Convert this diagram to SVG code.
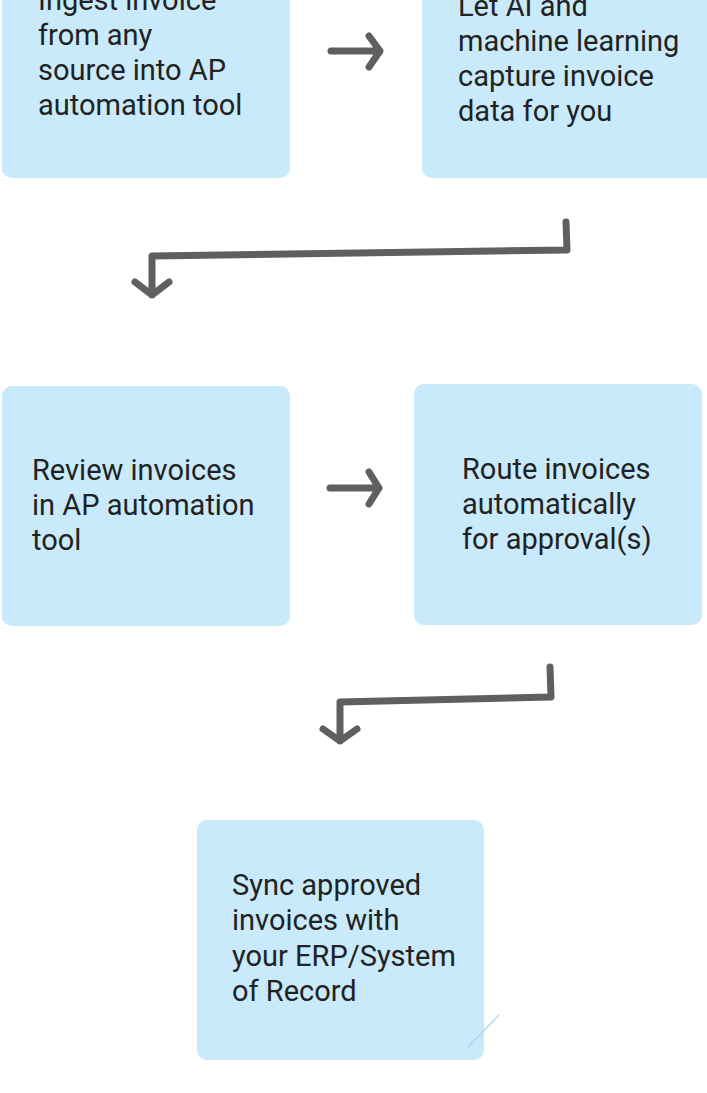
<svg xmlns="http://www.w3.org/2000/svg" width="707" height="1093" viewBox="0 0 707 1093">
<style>
.box{fill:#c8eafa;}
.t{font-family:Roboto,"Liberation Sans",sans-serif;font-size:29px;fill:#222222;}
.c{fill:none;stroke:#5e605f;stroke-width:7;stroke-linecap:round;stroke-linejoin:round;}
</style>
<rect width="707" height="1093" fill="#ffffff"/>
<g id="node1">
<rect class="box" x="2" y="-30" width="288" height="208" rx="10"/>
<text class="t" x="38" y="10">Ingest invoice</text>
<text class="t" x="38" y="45">from any</text>
<text class="t" x="38" y="80">source into AP</text>
<text class="t" x="38" y="115">automation tool</text>
</g>
<g id="node2">
<rect class="box" x="422" y="-30" width="300" height="208" rx="10"/>
<text class="t" x="458" y="16">Let AI and</text>
<text class="t" x="458" y="51">machine learning</text>
<text class="t" x="458" y="86">capture invoice</text>
<text class="t" x="458" y="121">data for you</text>
</g>
<g id="node3">
<rect class="box" x="2" y="386" width="288" height="240" rx="10"/>
<text class="t" x="32" y="480">Review invoices</text>
<text class="t" x="32" y="515">in AP automation</text>
<text class="t" x="32" y="550">tool</text>
</g>
<g id="node4">
<rect class="box" x="414" y="384" width="288" height="241" rx="10"/>
<text class="t" x="462" y="479">Route invoices</text>
<text class="t" x="462" y="514">automatically</text>
<text class="t" x="462" y="549">for approval(s)</text>
</g>
<g id="node5">
<rect class="box" x="197" y="820" width="287" height="240" rx="10"/>
<text class="t" x="232" y="895">Sync approved</text>
<text class="t" x="232" y="930">invoices with</text>
<text class="t" x="232" y="966">your ERP/System</text>
<text class="t" x="232" y="1001">of Record</text>
<line x1="468" y1="1047" x2="499" y2="1015" stroke="#9fd6f2" stroke-width="1.2"/>
</g>
<g id="connectors">
<path class="c" d="M331 51 L380 51 M369 36 L380 51 L369 67"/>
<path class="c" d="M330 488 L379 488 M369 472 L379 488 L369 504"/>
<path class="c" d="M566 222 L567 250 L152 256 L152 295 M135 282 L152 295 L169 282"/>
<path class="c" d="M550 667 L551 697 L340 702 L340 741 M323 729 L340 741 L357 729"/>
</g>
</svg>
